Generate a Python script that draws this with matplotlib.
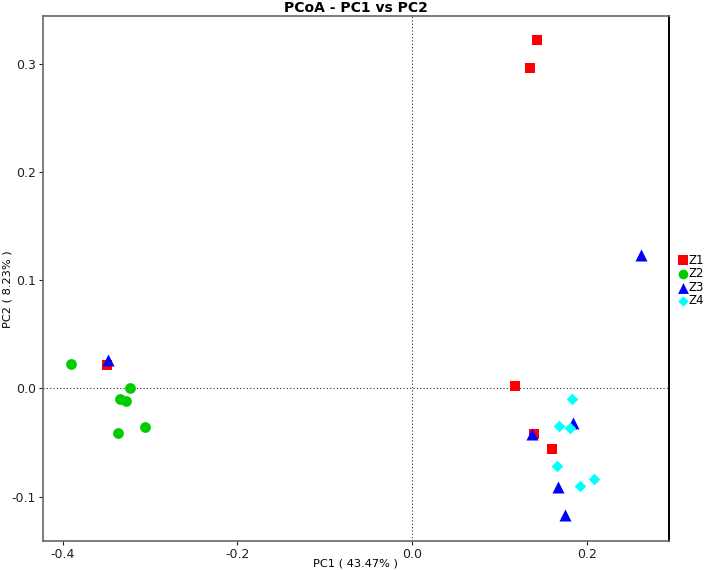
import matplotlib
matplotlib.use("Agg")
import matplotlib.pyplot as plt

groups = ["Z1", "Z2", "Z3", "Z4"]
colors = ["#ff0000", "#00cc00", "#0000ff", "#00ffff"]
markers = ["s", "o", "^", "D"]

z1_x = [0.1428, 0.1355, -0.3486, 0.1180, 0.1397, 0.1607]
z1_y = [0.3219, 0.2957, 0.0215, 0.0020, -0.0422, -0.0564]
z2_x = [-0.3898, -0.3230, -0.3337, -0.3268, -0.3055, -0.3364]
z2_y = [0.0225, 0.0000, -0.0102, -0.0114, -0.0360, -0.0413]
z3_x = [-0.3480, 0.2623, 0.1848, 0.1371, 0.1676, 0.1756]
z3_y = [0.0265, 0.1232, -0.0318, -0.0422, -0.0915, -0.1171]
z4_x = [0.1836, 0.1684, 0.1813, 0.1657, 0.2081, 0.1921]
z4_y = [-0.0102, -0.0345, -0.0364, -0.0718, -0.0841, -0.0906]

xs = [z1_x, z2_x, z3_x, z4_x]
ys = [z1_y, z2_y, z3_y, z4_y]
sizes = [55, 60, 75, 35]

xticks = [-0.4, -0.2, 0.0, 0.2]
yticks = [-0.1, 0.0, 0.1, 0.2, 0.3]

fig = plt.figure(figsize=(7.09, 5.70), dpi=100)
ax = fig.add_axes([0.0607, 0.0509, 0.944 - 0.0607, 0.9719 - 0.0509])

ax.axvline(0, color="#333333", linestyle=(0, (1, 2)), lw=0.8, zorder=1)
ax.axhline(0, color="#333333", linestyle=(0, (1, 2)), lw=0.8, zorder=1)

handles = []
for g, c, m, x, y, s in zip(groups, colors, markers, xs, ys, sizes):
    h = ax.scatter(x, y, c=c, marker=m, s=s, linewidths=0, label=g, zorder=3)
    handles.append(h)

ax.set_xlim(-0.4223, 0.2947)
ax.set_ylim(-0.1411, 0.344)
ax.set_xticks(xticks)
ax.set_xticklabels([f"{t:.1f}" for t in xticks])
ax.set_yticks(yticks)
ax.set_yticklabels([f"{t:.1f}" for t in yticks])
ax.tick_params(direction="out", length=3, width=0.8, labelsize=9, pad=2, colors="#222222")

for side in ["left", "bottom", "top"]:
    ax.spines[side].set_color("#666666")
    ax.spines[side].set_linewidth(1.2)
ax.spines["right"].set_color("black")
ax.spines["right"].set_linewidth(1.4)

fig.text(0.502, 0.003, "PC1 ( 43.47% )", fontsize=8.2, ha="center", va="bottom")
fig.text(0.003, 0.4927, "PC2 ( 8.23% )", fontsize=8.2, ha="left", va="center", rotation=90)
ax.set_title("PCoA - PC1 vs PC2", fontsize=10, fontweight="bold", pad=3)

fig.legend(handles=handles, labels=groups, loc="center left",
           bbox_to_anchor=(0.958, 0.508), frameon=False, fontsize=8.5,
           handlelength=0.6, handletextpad=0.15, labelspacing=0.05,
           borderpad=0, borderaxespad=0, markerscale=0.9)

fig.savefig("out.png", dpi=100)
